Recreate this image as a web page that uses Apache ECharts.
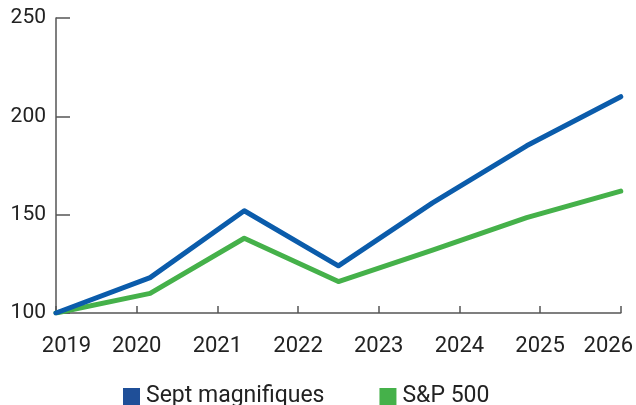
<!DOCTYPE html>
<html><head><meta charset="utf-8">
<script src="https://cdn.jsdelivr.net/npm/echarts@6/dist/echarts.min.js"></script>
<style>html,body{margin:0;padding:0;background:#fff}#c{width:636px;height:405px}</style>
</head><body><div id="c"></div>
<script>
const years = [2019, 2020, 2021, 2022, 2023, 2024, 2025, 2026];
// 7 evenly spaced observations from 2019 to 2026
const xPositions = [2019, 2020 + 1/6, 2021 + 1/3, 2022.5, 2023 + 2/3, 2024 + 5/6, 2026];
const septMagnifiques = [100, 118, 152, 124, 156, 185, 210];
const sp500 = [100, 110, 138, 116, 132, 148.5, 162];
const yTicks = [100, 150, 200, 250];
const seriesNames = ['Sept magnifiques', 'S&P 500'];

const FONT = 'Roboto';
const chart = echarts.init(document.getElementById('c'), null, {renderer: 'canvas'});
const pair = (xs, ys) => xs.map((x, i) => [x, ys[i]]);
chart.setOption({
  animation: false,
  grid: {left: 56, right: 14, top: 18, bottom: 92, containLabel: false},
  legend: {
    left: 118, top: 380, itemWidth: 17, itemHeight: 17, itemGap: 55,
    icon: 'rect',
    textStyle: {fontFamily: FONT, fontSize: 23, color: '#222', padding: [0,0,0,1]},
    data: seriesNames
  },
  xAxis: {
    type: 'value', min: years[0], max: years[years.length - 1], interval: 1,
    axisLine: {lineStyle: {color: '#555', width: 1.5}},
    axisTick: {inside: true, length: 7, lineStyle: {color: '#555', width: 1.5}},
    splitLine: {show: false},
    axisLabel: {
      fontFamily: FONT, fontSize: 22, color: '#222', margin: 22,
      formatter: v => v === years[0] ? '{a|' + v + '}' : (v === years[years.length-1] ? '{b|' + v + '}' : String(v)),
      rich: {
        a: {fontFamily: FONT, fontSize: 22, color: '#222', padding: [0, 0, 0, 21]},
        b: {fontFamily: FONT, fontSize: 22, color: '#222', padding: [0, 25, 0, 0]}
      }
    }
  },
  yAxis: {
    type: 'value', min: yTicks[0], max: yTicks[yTicks.length - 1], interval: 50,
    axisLine: {show: true, lineStyle: {color: '#555', width: 1.5}},
    axisTick: {show: true, inside: true, length: 14, lineStyle: {color: '#555', width: 1.5}},
    splitLine: {show: false},
    axisLabel: {fontFamily: FONT, fontSize: 21, color: '#222', margin: 10}
  },
  series: [
    {name: seriesNames[0], type: 'line', data: pair(xPositions, septMagnifiques), symbol: 'none',
     lineStyle: {color: '#0b5cab', width: 5, cap: 'round', join: 'round'}, itemStyle: {color: '#1f4f98'}, z: 3},
    {name: seriesNames[1], type: 'line', data: pair(xPositions, sp500), symbol: 'none',
     lineStyle: {color: '#45b14a', width: 5, cap: 'round', join: 'round'}, itemStyle: {color: '#45b14a'}, z: 2}
  ]
});
</script></body></html>
